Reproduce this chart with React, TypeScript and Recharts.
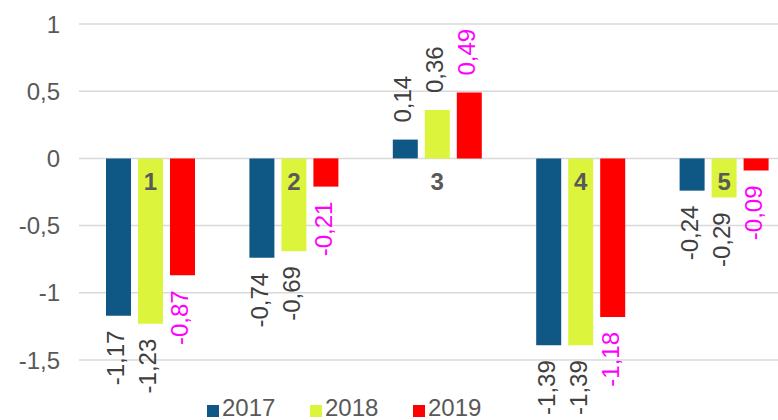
import React from "react"
import { BarChart, Bar, XAxis, YAxis, CartesianGrid, LabelList } from "recharts"

const CATEGORIES = ["1", "2", "3", "4", "5"]
const Y2017 = [-1.17, -0.74, 0.14, -1.39, -0.24]
const Y2018 = [-1.23, -0.69, 0.36, -1.39, -0.29]
const Y2019 = [-0.87, -0.21, 0.49, -1.18, -0.09]
const Y_TICKS = [-1.5, -1, -0.5, 0, 0.5, 1]

const SERIES = [
  { key: "y2017", name: "2017", color: "#0F5785", labelColor: "#404040" },
  { key: "y2018", name: "2018", color: "#DCF53C", labelColor: "#404040" },
  { key: "y2019", name: "2019", color: "#FF0000", labelColor: "#FF00FF" },
]

const data = CATEGORIES.map((c, i) => ({
  cat: c,
  y2017: Y2017[i],
  y2018: Y2018[i],
  y2019: Y2019[i],
}))

const FONT = "'Liberation Sans', Arial, sans-serif"
const fmt = (v: number) => String(v).replace(".", ",")

// rotated value label just past the end of the bar
const valueLabel = (color: string) => (props: any) => {
  const { x, y, width, height, value } = props
  const top = Math.min(y, y + height)
  const bottom = Math.max(y, y + height)
  const px = x + width / 2 + 6
  const py = value >= 0 ? top - 17 : bottom + 15
  return (
    <text
      x={px}
      y={py}
      transform={`rotate(-90, ${px}, ${py})`}
      textAnchor={value >= 0 ? "start" : "end"}
      fill={color}
      fontSize={24}
      fontFamily={FONT}
    >
      {fmt(value)}
    </text>
  )
}

// category number drawn just under the zero line, centred on the group
const categoryLabel = (props: any) => {
  const { x, y, width, height, value, index } = props
  const zero = value >= 0 ? Math.max(y, y + height) : Math.min(y, y + height)
  return (
    <text
      x={x + width / 2}
      y={zero + 32}
      textAnchor="middle"
      fill="#595959"
      fontSize={24}
      fontWeight="bold"
      fontFamily={FONT}
    >
      {CATEGORIES[index]}
    </text>
  )
}

export default function App() {
  return (
    <div style={{ position: "absolute", left: 0, top: 0, width: 778, height: 420, overflow: "hidden", background: "#fff" }}>
      <BarChart
        width={800}
        height={460}
        data={data}
        margin={{ top: 24, right: 4, left: 0, bottom: 100 }}
        barSize={25}
        barGap={7}
      >
        <CartesianGrid vertical={false} stroke="#D9D9D9" strokeWidth={1.5} />
        <XAxis dataKey="cat" hide />
        <YAxis
          width={79}
          domain={[-1.5, 1]}
          ticks={Y_TICKS}
          interval={0}
          axisLine={false}
          tickLine={false}
          tickFormatter={fmt}
          tickMargin={13}
          tick={{ fill: "#595959", fontSize: 24, fontFamily: FONT }}
        />
        {SERIES.map((s) => (
          <Bar key={s.key} dataKey={s.key} fill={s.color} isAnimationActive={false}>
            <LabelList dataKey={s.key} content={valueLabel(s.labelColor)} />
            {s.key === "y2018" && <LabelList dataKey={s.key} content={categoryLabel} />}
          </Bar>
        ))}
      </BarChart>
      {SERIES.map((s, i) => (
        <div
          key={s.key}
          style={{
            position: "absolute",
            left: 207 + i * 103,
            top: 396,
            display: "flex",
            alignItems: "center",
            fontFamily: FONT,
            fontSize: 24,
            color: "#595959",
            lineHeight: "24px",
            height: 24,
          }}
        >
          <span style={{ width: 12, height: 12, background: s.color, marginRight: 3, marginTop: 6 }} />
          <span>{s.name}</span>
        </div>
      ))}
    </div>
  )
}
